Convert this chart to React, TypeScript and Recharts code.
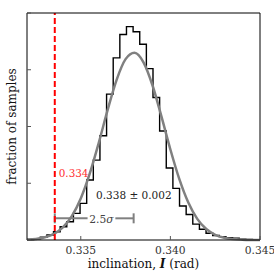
import React from 'react';
import { ComposedChart, Line, XAxis, YAxis, ReferenceLine, ReferenceDot, Label } from 'recharts';

// histogram of the samples (arbitrary units)
const histStart = 0.332;
const binWidth = 0.00037;
const histCounts = [
  0.01, 0.02, 0.048, 0.088, 0.146, 0.234, 0.322, 0.47, 0.646, 1.056, 1.408, 1.836,
  2.57, 3.21, 3.62, 3.76, 3.67, 3.45, 3.02, 2.51, 1.92, 1.27, 0.91, 0.6,
  0.45, 0.28, 0.19, 0.12, 0.08, 0.06, 0.04, 0.03, 0.015, 0.01, 0.005,
];

// gaussian fit curve
const fitX = [
  0.332, 0.3325, 0.333, 0.3335, 0.334, 0.3345, 0.335, 0.3355, 0.336, 0.3365,
  0.337, 0.3375, 0.338, 0.3385, 0.339, 0.3395, 0.34, 0.3405, 0.341, 0.3415,
  0.342, 0.3425, 0.343, 0.3435, 0.344, 0.3445, 0.345,
];
const fitY = [
  0.007, 0.019, 0.048, 0.107, 0.222, 0.421, 0.733, 1.169, 1.709, 2.293,
  2.823, 3.187, 3.299, 3.131, 2.727, 2.177, 1.595, 1.072, 0.66, 0.373,
  0.193, 0.092, 0.04, 0.016, 0.006, 0.002, 0.001,
];

const xTicks = [0.335, 0.34, 0.345];
const yTicks = [0, 1, 2, 3, 4];

const cutoff = 0.33355;
const cutoffLabel = '0.334';
const fitMean = 0.33795;
const fitLabel = '0.338 ± 0.002';
const bracketY = 0.382;
const sigmaGap = [0.33538, 0.33693];

const histData = histCounts.map((v, i) => ({ x: histStart + i * binWidth, y: v }));
histData.push({ x: histStart + histCounts.length * binWidth, y: histCounts[histCounts.length - 1] });
const fitData = fitX.map((x, i) => ({ x, y: fitY[i] }));

const FONT = "'DejaVu Serif', serif";

const BottomTick = (props: any) => {
  const { x, y, payload } = props;
  return (
    <g>
      <line x1={x} y1={y} x2={x} y2={y - 4} stroke="#555" />
      <text x={x} y={y + 14} textAnchor="middle" fontSize={10.7} fill="#333" fontFamily={FONT}>
        {payload.value.toFixed(3)}
      </text>
    </g>
  );
};
const TopTick = (props: any) => <line x1={props.x} y1={props.y} x2={props.x} y2={props.y + 4} stroke="#555" />;
const LeftTick = (props: any) => <line x1={props.x} y1={props.y} x2={props.x + 4} y2={props.y} stroke="#555" />;
const RightTick = (props: any) => <line x1={props.x} y1={props.y} x2={props.x - 4} y2={props.y} stroke="#555" />;

const textShape = (text: React.ReactNode, color: string, size: number) => (p: any) => (
  <text x={p.cx} y={p.cy} textAnchor="middle" fontSize={size} fill={color} fontFamily={FONT}>
    {text}
  </text>
);

export default function App() {
  return (
    <div style={{ position: 'absolute', left: 0, top: 0, width: 274, height: 274, background: '#fff' }}>
      <ComposedChart width={274} height={274} margin={{ top: 0, right: 0, bottom: 0, left: 0 }}>
        <XAxis
          dataKey="x"
          type="number"
          domain={[0.332, 0.345]}
          ticks={xTicks}
          interval={0}
          height={34}
          tickSize={0}
          tickMargin={0}
          tickLine={false}
          tick={<BottomTick />}
          axisLine={{ stroke: '#000' }}
        >
          <Label
            content={(p: any) => {
              const vb = p.viewBox || { x: 27, y: 240, width: 233, height: 34 };
              return (
                <text x={vb.x + vb.width / 2} y={267.5} textAnchor="middle" fontSize={12} fill="#111" fontFamily={FONT}>
                  inclination,{' '}
                  <tspan fontWeight="bold" fontStyle="italic">I</tspan> (rad)
                </text>
              );
            }}
          />
        </XAxis>
        <XAxis
          xAxisId="top"
          orientation="top"
          dataKey="x"
          type="number"
          domain={[0.332, 0.345]}
          ticks={xTicks}
          interval={0}
          height={13}
          tickSize={0}
          tickMargin={0}
          tickLine={false}
          tick={<TopTick />}
          axisLine={{ stroke: '#000' }}
        />
        <YAxis
          type="number"
          domain={[0, 4]}
          ticks={yTicks}
          interval={0}
          width={27}
          tickSize={0}
          tickMargin={0}
          tickLine={false}
          tick={<LeftTick />}
          axisLine={{ stroke: '#000' }}
        >
          <Label
            content={(p: any) => {
              const vb = p.viewBox || { x: 0, y: 13, width: 27, height: 227 };
              const cy = vb.y + vb.height / 2;
              return (
                <text
                  x={15.5}
                  y={cy}
                  transform={`rotate(-90, 15.5, ${cy})`}
                  textAnchor="middle"
                  fontSize={12}
                  fill="#111"
                  fontFamily={FONT}
                >
                  fraction of samples
                </text>
              );
            }}
          />
        </YAxis>
        <YAxis
          yAxisId="right"
          orientation="right"
          type="number"
          domain={[0, 4]}
          ticks={yTicks}
          interval={0}
          width={14}
          tickSize={0}
          tickMargin={0}
          tickLine={false}
          tick={<RightTick />}
          axisLine={{ stroke: '#000' }}
        />

        <Line
          data={histData}
          dataKey="y"
          type="stepAfter"
          stroke="#000"
          strokeWidth={1.4}
          dot={false}
          activeDot={false}
          isAnimationActive={false}
        />
        <Line
          data={fitData}
          dataKey="y"
          type="monotone"
          stroke="#808080"
          strokeWidth={2.5}
          dot={false}
          activeDot={false}
          isAnimationActive={false}
        />

        <ReferenceLine segment={[{ x: cutoff, y: bracketY }, { x: sigmaGap[0], y: bracketY }]} stroke="#808080" strokeWidth={2} />
        <ReferenceLine segment={[{ x: sigmaGap[1], y: bracketY }, { x: fitMean, y: bracketY }]} stroke="#808080" strokeWidth={2} />
        <ReferenceLine segment={[{ x: fitMean, y: 0.294 }, { x: fitMean, y: 0.47 }]} stroke="#808080" strokeWidth={2} />
        <ReferenceLine segment={[{ x: cutoff, y: 0.294 }, { x: cutoff, y: 0.47 }]} stroke="#808080" strokeWidth={2} />

        <ReferenceLine x={cutoff} stroke="#f00" strokeWidth={2} strokeDasharray="6 3" />

        <ReferenceDot x={0.3346} y={1.115} r={0} shape={textShape(cutoffLabel, '#ff3030', 10.4)} />
        <ReferenceDot x={0.33796} y={0.717} r={0} shape={textShape(fitLabel, '#222', 10.5)} />
        <ReferenceDot
          x={0.33615}
          y={0.308}
          r={0}
          shape={textShape(<>2.5<tspan fontStyle="italic">σ</tspan></>, '#444', 10.7)}
        />
      </ComposedChart>
    </div>
  );
}
